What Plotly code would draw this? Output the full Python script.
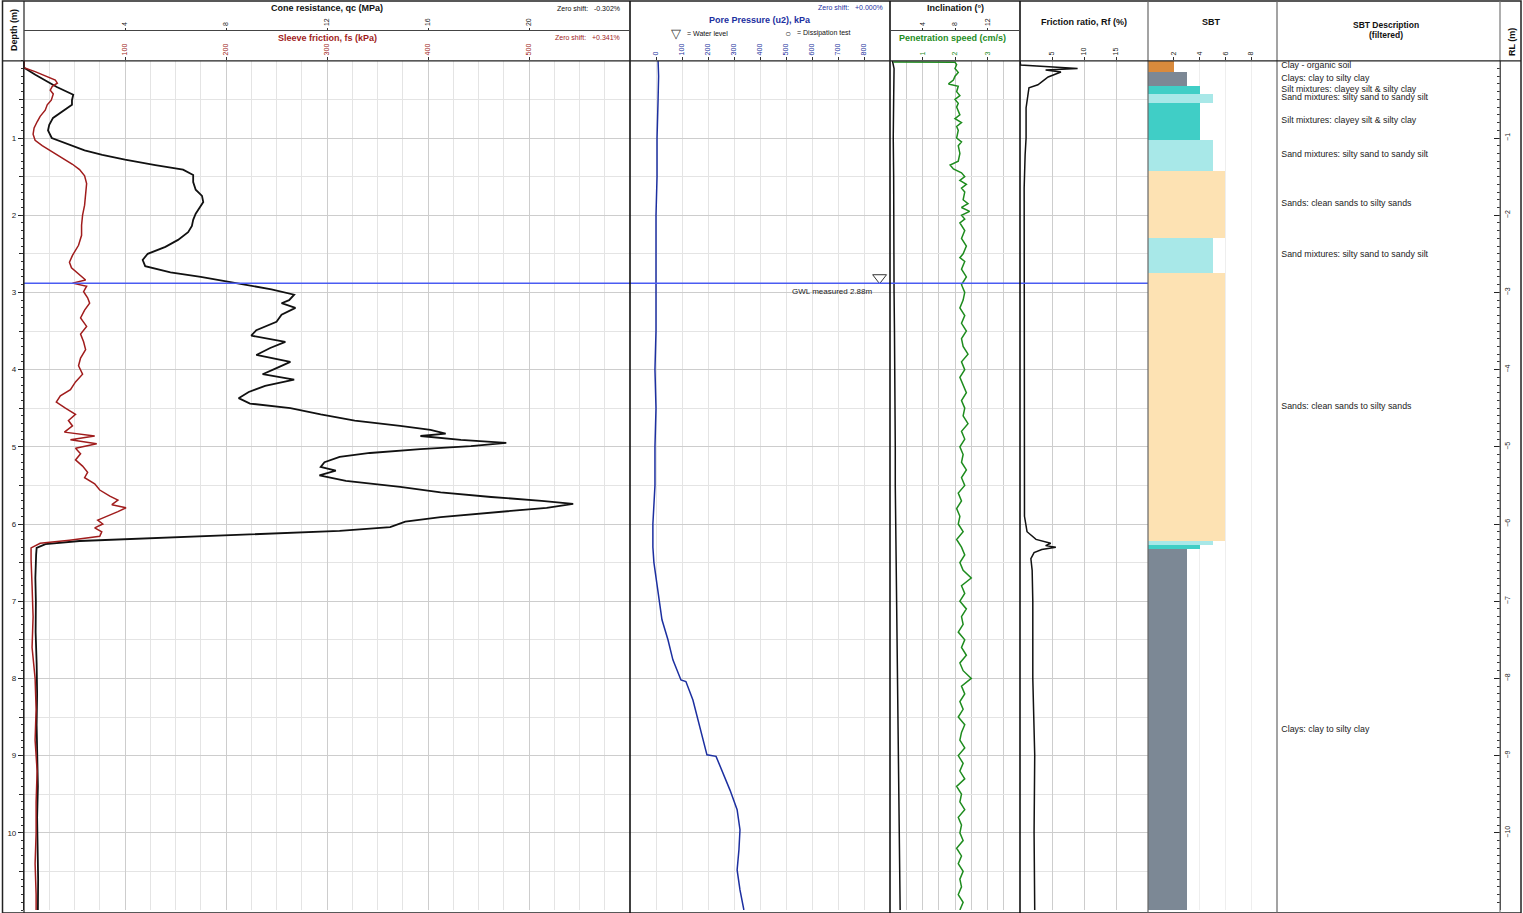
import plotly.graph_objects as go

W, H = 1523, 913

# ---------------- CPT data (depth in m) ----------------
qc_depth = [0.00, 0.09, 0.18, 0.27, 0.34, 0.44, 0.51, 0.57, 0.66, 0.74, 0.83, 0.90, 1.00, 1.09, 1.16, 1.22,
            1.28, 1.35, 1.41, 1.48, 1.57, 1.67, 1.75, 1.83, 1.91, 1.98, 2.06, 2.14, 2.22, 2.32, 2.41, 2.50,
            2.58, 2.66, 2.74, 2.80, 2.88, 2.96, 3.03, 3.10, 3.14, 3.20, 3.29, 3.38, 3.49, 3.56, 3.64, 3.72,
            3.81, 3.90, 3.98, 4.06, 4.13, 4.21, 4.29, 4.37, 4.44, 4.50, 4.58, 4.66, 4.73, 4.78, 4.83, 4.86,
            4.91, 4.95, 4.99, 5.03, 5.08, 5.13, 5.20, 5.26, 5.31, 5.37, 5.44, 5.52, 5.59, 5.65, 5.70, 5.74,
            5.79, 5.84, 5.91, 5.97, 6.04, 6.09, 6.14, 6.18, 6.22, 6.26, 6.31, 6.40, 6.70, 7.00, 7.40, 7.80,
            8.20, 8.60, 9.00, 9.40, 9.80, 10.20, 10.60, 11.00]
qc_mpa = [0.00, 0.00, 0.45, 0.95, 1.30, 1.95, 1.90, 1.90, 1.50, 1.15, 1.00, 0.95, 1.10, 1.80, 2.40, 3.10,
          4.00, 5.20, 6.30, 6.70, 6.70, 6.80, 7.05, 7.10, 6.95, 6.80, 6.70, 6.65, 6.50, 6.10, 5.60, 4.90,
          4.70, 4.80, 5.80, 7.00, 8.40, 9.80, 10.70, 10.50, 10.20, 10.75, 10.20, 10.00, 9.20, 9.00, 10.35, 9.75,
          9.20, 10.55, 10.00, 9.45, 10.70, 9.55, 8.90, 8.50, 8.95, 10.55, 11.75, 13.10, 14.90, 16.10, 16.70, 15.70,
          17.30, 19.10, 17.70, 15.70, 13.70, 12.50, 11.90, 11.75, 12.35, 11.70, 12.75, 14.90, 16.50, 18.50, 20.50, 21.75,
          20.70, 18.90, 16.50, 15.10, 14.50, 12.50, 8.60, 5.00, 2.20, 0.85, 0.50, 0.48, 0.45, 0.47, 0.46, 0.50,
          0.52, 0.50, 0.53, 0.55, 0.52, 0.55, 0.56, 0.55]

fs_depth = [0.00, 0.09, 0.14, 0.20, 0.25, 0.29, 0.33, 0.38, 0.43, 0.51, 0.57, 0.64, 0.72, 0.79, 0.87, 0.95,
            1.03, 1.10, 1.18, 1.26, 1.34, 1.41, 1.49, 1.59, 1.74, 1.87, 2.00, 2.13, 2.26, 2.39, 2.52, 2.61,
            2.68, 2.77, 2.84, 2.88, 2.92, 2.99, 3.07, 3.14, 3.23, 3.33, 3.44, 3.54, 3.64, 3.74, 3.85, 3.95,
            4.06, 4.16, 4.26, 4.34, 4.42, 4.50, 4.58, 4.66, 4.73, 4.81, 4.86, 4.91, 4.96, 5.02, 5.09, 5.17,
            5.25, 5.33, 5.40, 5.48, 5.56, 5.64, 5.69, 5.75, 5.79, 5.84, 5.90, 5.95, 6.00, 6.05, 6.10, 6.16,
            6.21, 6.25, 6.31, 6.46, 6.80, 7.20, 7.60, 8.00, 8.40, 8.80, 9.20, 9.60, 10.00, 10.40, 10.80, 11.00]
fs_kpa = [0, 0, 11, 21, 31, 33, 28, 26, 29, 27, 23, 21, 16, 13, 10, 9,
          11, 18, 28, 39, 48, 55, 60, 62, 61, 60, 58, 57, 57, 54, 48, 45,
          47, 55, 61, 48, 62, 59, 63, 65, 60, 56, 62, 56, 59, 61, 56, 54,
          58, 51, 46, 36, 32, 41, 51, 44, 48, 40, 70, 46, 72, 51, 56, 51,
          58, 63, 60, 70, 75, 85, 93, 87, 101, 93, 83, 73, 78, 70, 77, 75,
          45, 16, 7, 7, 8, 9, 8, 11, 12, 11, 13, 12, 12, 11, 12, 12]

u2_depth = [0.00, 0.20, 0.50, 1.00, 1.50, 2.00, 2.88, 3.50, 4.00, 4.50, 5.00, 5.50, 6.00, 6.30, 6.50, 6.80,
            7.00, 7.24, 7.50, 7.76, 8.02, 8.04, 8.28, 8.54, 8.80, 8.99, 9.01, 9.19, 9.45, 9.70, 9.96, 10.22,
            10.48, 10.74, 11.00]
u2_kpa = [8, 10, 8, 4, 4, 0, 0, 0, -4, 0, -4, -4, -12, -12, -8, 4,
          12, 23, 46, 65, 96, 115, 142, 162, 181, 196, 231, 254, 285, 312, 323, 319,
          312, 323, 338]

incl_depth = [0.00, 0.10, 0.50, 1.00, 1.50, 2.00, 2.50, 3.00, 3.50, 4.00, 4.50, 5.00, 5.50, 6.00, 6.50, 7.00,
              7.50, 8.00, 8.50, 9.00, 9.50, 10.00, 10.50, 11.00]
incl_deg = [0.30, 0.50, 0.45, 0.40, 0.45, 0.45, 0.50, 0.50, 0.55, 0.60, 0.60, 0.65, 0.65, 0.70, 0.75, 0.80,
            0.85, 0.90, 0.95, 1.00, 1.05, 1.10, 1.15, 1.25]

speed_depth = [0.015, 0.02, 0.05, 0.10, 0.15, 0.20, 0.25, 0.30, 0.33, 0.40, 0.45, 0.50, 0.55, 0.60, 0.70, 0.75,
               0.80, 0.85, 0.90, 1.00, 1.05, 1.10, 1.20, 1.30, 1.35, 1.40, 1.45, 1.50, 1.55, 1.60, 1.65, 1.70,
               1.80, 1.85, 1.90, 1.95, 2.00, 2.05, 2.10, 2.20, 2.25, 2.30, 2.40, 2.50, 2.55, 2.60, 2.70, 2.80,
               2.90, 3.00, 3.10, 3.20, 3.30, 3.40, 3.50, 3.60, 3.70, 3.80, 3.90, 4.00, 4.10, 4.20, 4.30, 4.40,
               4.50, 4.60, 4.70, 4.80, 4.90, 5.00, 5.10, 5.20, 5.30, 5.40, 5.50, 5.60, 5.70, 5.80, 5.90, 6.00,
               6.10, 6.20, 6.30, 6.40, 6.50, 6.60, 6.70, 6.80, 6.90, 7.00, 7.10, 7.20, 7.30, 7.40, 7.50, 7.60,
               7.70, 7.80, 7.90, 8.00, 8.10, 8.20, 8.30, 8.40, 8.50, 8.60, 8.70, 8.80, 8.90, 9.00, 9.10, 9.20,
               9.30, 9.40, 9.50, 9.60, 9.70, 9.80, 9.90, 10.00, 10.10, 10.20, 10.30, 10.40, 10.50, 10.60, 10.70,
               10.80, 10.90, 11.00]
speed_cms = [0.10, 2.00, 2.05, 2.00, 2.10, 2.00, 1.95, 1.80, 2.10, 2.05, 2.15, 2.00, 2.10, 2.05, 2.15, 2.00,
             2.20, 2.05, 2.10, 2.05, 2.20, 2.10, 2.15, 2.10, 1.85, 1.95, 2.20, 2.30, 2.15, 2.35, 2.20, 2.30,
             2.25, 2.40, 2.20, 2.45, 2.20, 2.30, 2.15, 2.30, 2.25, 2.20, 2.35, 2.25, 2.15, 2.30, 2.20, 2.35,
             2.20, 2.30, 2.25, 2.15, 2.30, 2.20, 2.35, 2.20, 2.25, 2.40, 2.20, 2.30, 2.15, 2.25, 2.35, 2.20,
             2.30, 2.25, 2.40, 2.20, 2.30, 2.15, 2.25, 2.20, 2.35, 2.20, 2.30, 2.10, 2.20, 2.05, 2.15, 2.10,
             2.25, 2.05, 2.20, 2.30, 2.15, 2.25, 2.50, 2.20, 2.30, 2.15, 2.35, 2.20, 2.25, 2.10, 2.30, 2.20,
             2.35, 2.15, 2.25, 2.50, 2.20, 2.30, 2.15, 2.25, 2.10, 2.30, 2.20, 2.15, 2.30, 2.10, 2.25, 2.15,
             2.30, 2.05, 2.20, 2.15, 2.30, 2.10, 2.20, 2.15, 2.25, 2.05, 2.20, 2.10, 2.25, 2.15, 2.20,
             2.10, 2.25, 2.15]

rf_depth = [0.00, 0.055, 0.10, 0.12, 0.145, 0.21, 0.25, 0.31, 0.35, 0.44, 0.61, 1.00, 1.22, 1.65, 2.52, 2.94,
            3.50, 4.50, 5.50, 5.90, 6.10, 6.20, 6.25, 6.28, 6.30, 6.33, 6.37, 6.45, 6.60, 7.00, 8.00, 9.00,
            10.00, 11.00]
rf_pct = [0.0, 0.1, 9.0, 4.0, 6.4, 4.4, 3.75, 2.8, 1.4, 1.25, 0.95, 0.95, 0.8, 0.65, 0.65, 0.7,
          0.65, 0.6, 0.65, 0.7, 1.1, 2.5, 4.8, 4.0, 5.6, 3.4, 2.2, 1.7, 1.9, 2.0, 2.0, 2.3,
          2.2, 2.3]

# Soil behaviour type layers
sbt_top = [0.00, 0.14, 0.32, 0.43, 0.54, 1.02, 1.42, 2.29, 2.74, 6.22, 6.27, 6.32]
sbt_bottom = [0.14, 0.32, 0.43, 0.54, 1.02, 1.42, 2.29, 2.74, 6.22, 6.27, 6.32, 11.00]
sbt_zone = [2, 3, 4, 5, 4, 5, 6, 5, 6, 5, 4, 3]
zone_color = {2: "#d98a3c", 3: "#7c8895", 4: "#40cec6", 5: "#a8e8e8", 6: "#fde2b3"}
zone_name = {
    2: "Clay - organic soil",
    3: "Clays: clay to silty clay",
    4: "Silt mixtures: clayey silt & silty clay",
    5: "Sand mixtures: silty sand to sandy silt",
    6: "Sands: clean sands to silty sands",
}

GWL_DEPTH = 2.88
DEPTH_MAX = 11.0

# ---------------- layout helpers ----------------
def px(x):
    return x / W


def py(y):
    return 1 - y / H


TOP, BOTTOM = 60.8, 910.0
Y_DOM = [py(BOTTOM), py(TOP)]
FONT = "Liberation Sans, Arial, sans-serif"
RED, BLUE, GREEN = "#a01c1c", "#1c2fa0", "#1e8c1e"
GRID, GRID_MINOR = "#cdcdcd", "#e4e4e4"

fig = go.Figure()

fig.add_trace(go.Scatter(x=qc_mpa, y=qc_depth, xaxis="x", yaxis="y", mode="lines",
                         line=dict(color="#111111", width=1.8), showlegend=False))
fig.add_trace(go.Scatter(x=fs_kpa, y=fs_depth, xaxis="x2", yaxis="y7", mode="lines",
                         line=dict(color=RED, width=1.5), showlegend=False))
fig.add_trace(go.Scatter(x=u2_kpa, y=u2_depth, xaxis="x3", yaxis="y2", mode="lines",
                         line=dict(color=BLUE, width=1.5), showlegend=False))
fig.add_trace(go.Scatter(x=[860], y=[GWL_DEPTH - 0.07], xaxis="x3", yaxis="y2", mode="markers",
                         marker=dict(symbol="triangle-down-open", size=12, color="#333333",
                                     line=dict(width=1)), showlegend=False))
fig.add_trace(go.Scatter(x=incl_deg, y=incl_depth, xaxis="x4", yaxis="y3", mode="lines",
                         line=dict(color="#111111", width=1.5), showlegend=False))
fig.add_trace(go.Scatter(x=speed_cms, y=speed_depth, xaxis="x5", yaxis="y3", mode="lines",
                         line=dict(color=GREEN, width=1.5), showlegend=False, cliponaxis=False))
fig.add_trace(go.Scatter(x=rf_pct, y=rf_depth, xaxis="x6", yaxis="y4", mode="lines",
                         line=dict(color="#111111", width=1.5), showlegend=False))

mids = [(t + b) / 2 for t, b in zip(sbt_top, sbt_bottom)]
thick = [b - t for t, b in zip(sbt_top, sbt_bottom)]
fig.add_trace(go.Bar(x=sbt_zone, y=mids, width=thick, base=0, orientation="h",
                     xaxis="x7", yaxis="y5",
                     marker=dict(color=[zone_color[z] for z in sbt_zone], line=dict(width=0)),
                     showlegend=False, hoverinfo="skip"))

# description column: one label per layer thick enough to be named (plotted against RL)
desc_rl = [-(t + b) / 2 for t, b in zip(sbt_top, sbt_bottom) if b - t >= 0.09]
desc_text = [zone_name[z] for t, b, z in zip(sbt_top, sbt_bottom, sbt_zone) if b - t >= 0.09]
fig.add_trace(go.Scatter(x=[0.0] * len(desc_rl), y=desc_rl, xaxis="x8", yaxis="y6", mode="text",
                         text=desc_text, textposition="middle right", cliponaxis=False,
                         textfont=dict(family=FONT, size=8.8, color="#222222"),
                         showlegend=False, hoverinfo="skip"))


def top_axis(dom, rng, vals, color="#222222", **kw):
    d = dict(domain=[px(dom[0]), px(dom[1])], range=rng, side="top", tickmode="array",
             tickvals=vals, ticks="outside", ticklen=3, tickwidth=1, tickcolor="#333333",
             tickangle=-90, tickfont=dict(family=FONT, size=7, color=color),
             zeroline=False, showline=False, fixedrange=True)
    d.update(kw)
    return d


def depth_axis(anchor, **kw):
    d = dict(domain=Y_DOM, range=[DEPTH_MAX, 0], anchor=anchor, tickmode="linear", tick0=0, dtick=1,
             showticklabels=False, ticks="", showgrid=True, gridcolor=GRID, gridwidth=1,
             minor=dict(tick0=0.5, dtick=1, showgrid=True, gridcolor=GRID_MINOR, ticks=""),
             zeroline=False, showline=False)
    d.update(kw)
    return d


fig.update_layout(
    width=W, height=H, margin=dict(l=0, r=0, t=0, b=0),
    paper_bgcolor="white", plot_bgcolor="white", bargap=0,
    font=dict(family=FONT, size=8, color="#222222"),
    xaxis=top_axis((24, 630), [0, 24], [4, 8, 12, 16, 20], anchor="free", position=py(30.5),
                   showgrid=True, gridcolor=GRID,
                   minor=dict(tick0=0, dtick=1, showgrid=True, gridcolor=GRID_MINOR, ticks="")),
    xaxis2=top_axis((24, 630), [0, 600], [100, 200, 300, 400, 500], color=RED,
                    overlaying="x", anchor="y7", showgrid=False),
    xaxis3=top_axis((630, 890), [-100, 900], [0, 100, 200, 300, 400, 500, 600, 700, 800], color=BLUE,
                    anchor="y2", showgrid=True, gridcolor=GRID_MINOR),
    xaxis4=top_axis((890, 1020), [0, 16], [4, 8, 12], anchor="free", position=py(30.5),
                    showgrid=True, gridcolor=GRID,
                    minor=dict(tick0=0, dtick=2, showgrid=True, gridcolor=GRID, ticks="")),
    xaxis5=top_axis((890, 1020), [0, 4], [1, 2, 3], color=GREEN, overlaying="x4", anchor="y3",
                    showgrid=False),
    xaxis6=top_axis((1020, 1148), [0, 20], [5, 10, 15], anchor="y4", showgrid=True, gridcolor=GRID),
    xaxis7=top_axis((1148, 1277), [0, 10], [2, 4, 6, 8], anchor="y5", showgrid=True,
                    gridcolor="#eeeeee"),
    xaxis8=dict(domain=[px(1277), px(1500)], range=[-0.02, 1], anchor="y6", visible=False, fixedrange=True),
    yaxis=depth_axis("x", tickmode="array", tickvals=list(range(1, 11)), showticklabels=True,
                     ticks="outside", ticklen=5, tickcolor="#222222",
                     tickfont=dict(family=FONT, size=8, color="#222222"),
                     minor=dict(tick0=0.5, dtick=1, showgrid=True, gridcolor=GRID_MINOR,
                                ticks="outside", ticklen=4, tickcolor="#222222"),
                     showline=True, linecolor="#222222", linewidth=1.2),
    yaxis2=depth_axis("x3"),
    yaxis3=depth_axis("x4"),
    yaxis4=depth_axis("x6"),
    yaxis5=depth_axis("x7", showgrid=False, minor=dict(showgrid=False)),
    yaxis6=dict(domain=Y_DOM, range=[-DEPTH_MAX, 0], anchor="x8", side="right", tickmode="array",
                tickvals=[-v for v in range(1, 11)], ticks="inside", ticklen=6, tickcolor="#222222",
                tickangle=-90, tickfont=dict(family=FONT, size=7, color="#222222"),
                minor=dict(tick0=0, dtick=0.1, ticks="inside", ticklen=3, tickcolor="#333333"),
                showgrid=False, zeroline=False, showline=True, linecolor="#222222", linewidth=1.2),
    yaxis7=dict(domain=Y_DOM, range=[DEPTH_MAX, 0], overlaying="y", anchor="x", side="left",
                tickmode="linear", tick0=0, dtick=0.1, ticks="outside", ticklen=2.5, tickcolor="#333333",
                showticklabels=False, showgrid=False, zeroline=False),
)

# water table across the data panels
fig.add_shape(type="line", xref="paper", yref="y", x0=px(24), x1=px(1148), y0=GWL_DEPTH, y1=GWL_DEPTH,
              line=dict(color="#4a5cf2", width=1.5), layer="above")

# frame, column dividers and header separators
frame_col = "#222222"
fig.add_shape(type="rect", xref="paper", yref="paper", x0=px(2.5), x1=px(1521), y0=py(913), y1=py(1),
              line=dict(color=frame_col, width=1.5))
for xv, col in [(24, frame_col), (630, "#111111"), (890, "#111111"), (1020, "#111111"),
                (1148, "#666666"), (1277, "#666666"), (1500, "#777777")]:
    fig.add_shape(type="line", xref="paper", yref="paper", x0=px(xv), x1=px(xv), y0=py(BOTTOM + 3),
                  y1=py(1), line=dict(color=col, width=1.6 if col == "#111111" else 1.2))
fig.add_shape(type="line", xref="paper", yref="paper", x0=px(2.5), x1=px(1521), y0=py(TOP), y1=py(TOP),
              line=dict(color=frame_col, width=1.3))
for a, b in [(24, 630), (890, 1020)]:
    fig.add_shape(type="line", xref="paper", yref="paper", x0=px(a), x1=px(b), y0=py(30.5), y1=py(30.5),
                  line=dict(color="#444444", width=1))


def label(text, x, y, size=9, color="#111111", bold=False, xanchor="center", angle=0, **kw):
    fig.add_annotation(text=f"<b>{text}</b>" if bold else text, x=px(x), y=py(y), xref="paper",
                       yref="paper", showarrow=False, xanchor=xanchor, yanchor="middle", textangle=angle,
                       font=dict(family=FONT, size=size, color=color), **kw)


label("Depth (m)", 14, 30, size=9, bold=True, angle=-90)
label("Cone resistance, qc (MPa)", 327, 8, bold=True)
label("Zero shift:   -0.302%", 622, 8, size=7, xanchor="right")
label("Sleeve friction, fs (kPa)", 327, 38, bold=True, color=RED)
label("Zero shift:   +0.341%", 622, 37, size=7, color=RED, xanchor="right")
label("Zero shift:   +0.000%", 885, 7, size=7, color=BLUE, xanchor="right")
label("Pore Pressure (u2), kPa", 760, 20, bold=True, color=BLUE)
label("▽", 676, 33, size=13, color="#333333")
label("= Water level", 685, 33, size=7, xanchor="left")
label("○", 788, 33, size=10, color="#333333")
label("= Dissipation test", 795, 33, size=7, xanchor="left")
label("Inclination (°)", 955, 8, bold=True)
label("Penetration speed (cm/s)", 952, 38, bold=True, color=GREEN)
label("Friction ratio, Rf (%)", 1084, 22, bold=True)
label("SBT", 1211, 22, bold=True)
label("SBT Description", 1386, 25, bold=True, size=8.5)
label("(filtered)", 1386, 35, bold=True, size=8.5)
label("RL (m)", 1512, 42, size=9, bold=True, angle=-90)

fig.add_annotation(text=f"GWL measured {GWL_DEPTH:.2f}m", x=842, y=GWL_DEPTH, xref="x3", yref="y2",
                   showarrow=False, xanchor="right", yanchor="top", yshift=-2,
                   font=dict(family=FONT, size=8, color="#222222"))

fig.write_html("out.html")
